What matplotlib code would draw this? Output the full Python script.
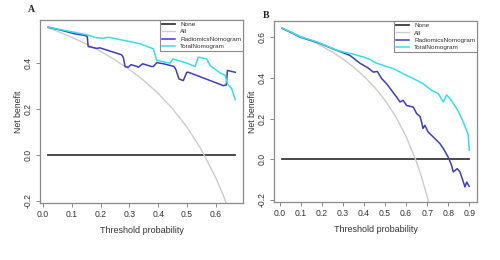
import matplotlib
matplotlib.use("Agg")
import matplotlib.pyplot as plt

# ------------ Data --------------------------------------
# Panel A
a_none_x = [0.018, 0.667]
a_none_y = [0.0, 0.0]
a_all_x = [0.018, 0.05, 0.10, 0.15, 0.20, 0.25, 0.30, 0.35, 0.40, 0.45,
           0.50, 0.55, 0.60, 0.625, 0.65, 0.667]
a_all_y = [0.552, 0.537, 0.511, 0.482, 0.450, 0.413, 0.371, 0.323, 0.267,
           0.200, 0.120, 0.022, -0.100, -0.173, -0.257, -0.333]
a_rad_x = [0.018, 0.069, 0.111, 0.146, 0.154, 0.157, 0.186, 0.198, 0.273,
           0.279, 0.285, 0.296, 0.306, 0.325, 0.331, 0.346, 0.377, 0.383,
           0.395, 0.418, 0.447, 0.455, 0.461, 0.472, 0.487, 0.499, 0.505,
           0.626, 0.636, 0.640, 0.667]
a_rad_y = [0.555, 0.540, 0.526, 0.519, 0.514, 0.471, 0.463, 0.465, 0.435,
           0.423, 0.384, 0.381, 0.392, 0.385, 0.381, 0.396, 0.384, 0.384,
           0.401, 0.396, 0.387, 0.384, 0.371, 0.330, 0.323, 0.359, 0.359,
           0.301, 0.304, 0.367, 0.359]
a_tot_x = [0.018, 0.152, 0.186, 0.209, 0.227, 0.256, 0.337, 0.383, 0.395,
           0.400, 0.441, 0.451, 0.499, 0.528, 0.539, 0.568, 0.580, 0.615,
           0.632, 0.640, 0.655, 0.667]
a_tot_y = [0.555, 0.522, 0.509, 0.507, 0.511, 0.504, 0.483, 0.461, 0.410,
           0.410, 0.398, 0.417, 0.399, 0.384, 0.425, 0.417, 0.388, 0.356,
           0.347, 0.309, 0.287, 0.240]

# Panel B
b_none_x = [0.011, 0.900]
b_none_y = [0.0, 0.0]
b_all_x = [0.011, 0.05, 0.10, 0.15, 0.20, 0.25, 0.30, 0.35, 0.40, 0.45,
           0.50, 0.55, 0.60, 0.65, 0.675, 0.70, 0.725]
b_all_y = [0.641, 0.626, 0.606, 0.582, 0.556, 0.527, 0.493, 0.454, 0.408,
           0.355, 0.290, 0.211, 0.112, -0.014, -0.092, -0.183, -0.291]
b_rad_x = [0.011, 0.048, 0.095, 0.175, 0.270, 0.333, 0.380, 0.420, 0.444,
           0.463, 0.484, 0.507, 0.531, 0.555, 0.571, 0.586, 0.602, 0.634,
           0.650, 0.666, 0.674, 0.680, 0.689, 0.705, 0.729, 0.761, 0.777,
           0.800, 0.816, 0.824, 0.843, 0.856, 0.880, 0.888, 0.900]
b_rad_y = [0.645, 0.626, 0.601, 0.576, 0.536, 0.511, 0.473, 0.449, 0.429,
           0.432, 0.397, 0.372, 0.339, 0.306, 0.282, 0.290, 0.265, 0.257,
           0.225, 0.211, 0.182, 0.152, 0.167, 0.134, 0.110, 0.077, 0.053,
           0.011, -0.029, -0.062, -0.046, -0.062, -0.136, -0.112, -0.133]
b_tot_x = [0.011, 0.048, 0.095, 0.175, 0.272, 0.304, 0.344, 0.368, 0.399,
           0.428, 0.456, 0.491, 0.539, 0.586, 0.634, 0.681, 0.721, 0.753,
           0.777, 0.793, 0.820, 0.848, 0.868, 0.884, 0.895, 0.900]
b_tot_y = [0.645, 0.628, 0.603, 0.578, 0.536, 0.527, 0.519, 0.511, 0.503,
           0.491, 0.474, 0.462, 0.446, 0.421, 0.397, 0.372, 0.339, 0.323,
           0.282, 0.317, 0.283, 0.236, 0.192, 0.152, 0.123, 0.044]

a_xticks = [0.0, 0.1, 0.2, 0.3, 0.4, 0.5, 0.6]
a_yticks = [-0.2, 0.0, 0.2, 0.4]
b_xticks = [0.0, 0.1, 0.2, 0.3, 0.4, 0.5, 0.6, 0.7, 0.8, 0.9]
b_yticks = [-0.2, 0.0, 0.2, 0.4, 0.6]

legend_labels = ["None", "All", "RadiomicsNomogram", "TotalNomogram"]

colors = {
    "none": "#3a3a3a",
    "all": "#cccccc",
    "rad": "#3d3dbf",
    "tot": "#35e0e8",
}
frame_col = "#8a8a8a"
text_col = "#333333"

plt.rcParams["font.family"] = ["Liberation Sans", "DejaVu Sans"]

fig = plt.figure(figsize=(5.0, 2.6), dpi=100)
ax_a = fig.add_axes([0.080, 0.219, 0.406, 0.704])
ax_b = fig.add_axes([0.548, 0.223, 0.406, 0.696])


def draw_panel(ax, series, xlim, ylim, xticks, yticks):
    for (x, y, c, lw) in series:
        ax.plot(x, y, color=c, lw=lw, solid_joinstyle="round")
    ax.set_xlim(*xlim)
    ax.set_ylim(*ylim)
    ax.set_xticks(xticks)
    ax.set_xticklabels([f"{t:.1f}" for t in xticks])
    ax.set_yticks(yticks)
    ax.set_yticklabels([f"{t:.1f}" for t in yticks], rotation=90, va="center")
    ax.tick_params(axis="both", labelsize=6.2, colors=frame_col,
                   labelcolor=text_col, length=3, width=0.7, pad=2)
    for s in ax.spines.values():
        s.set_color(frame_col)
        s.set_linewidth(0.9)
    ax.set_xlabel("Threshold probability", fontsize=6.5, color=text_col, labelpad=5)
    ax.set_ylabel("Net benefit", fontsize=6.3, color=text_col, labelpad=1)
    leg = ax.legend(legend_labels, loc="upper right", fontsize=4.6,
                    borderaxespad=0, fancybox=False, framealpha=1,
                    edgecolor=frame_col, handlelength=2.1, handletextpad=0.8,
                    labelspacing=0.3, borderpad=0.25, labelcolor=text_col)
    leg.get_frame().set_linewidth(0.8)


draw_panel(ax_a,
           [(a_none_x, a_none_y, colors["none"], 1.3),
            (a_all_x, a_all_y, colors["all"], 1.0),
            (a_rad_x, a_rad_y, colors["rad"], 1.1),
            (a_tot_x, a_tot_y, colors["tot"], 1.1)],
           (-0.01, 0.694), (-0.209, 0.586), a_xticks, a_yticks)

draw_panel(ax_b,
           [(b_none_x, b_none_y, colors["none"], 1.3),
            (b_all_x, b_all_y, colors["all"], 1.0),
            (b_rad_x, b_rad_y, colors["rad"], 1.1),
            (b_tot_x, b_tot_y, colors["tot"], 1.1)],
           (-0.028, 0.937), (-0.21, 0.68), b_xticks, b_yticks)

fig.text(0.063, 0.962, "A", fontsize=7, fontweight="bold",
         family="Liberation Serif", ha="center", va="center", color="#222222")
fig.text(0.533, 0.940, "B", fontsize=7, fontweight="bold",
         family="Liberation Serif", ha="center", va="center", color="#222222")

fig.savefig("out.png", dpi=100)
